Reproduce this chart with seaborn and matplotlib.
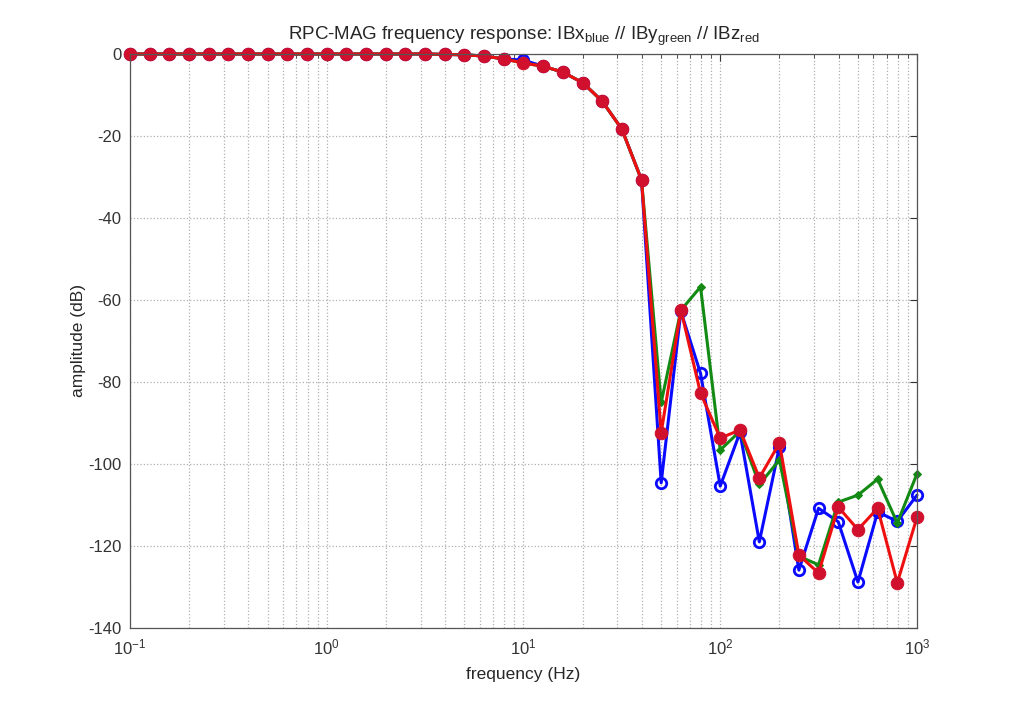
import numpy as np
import pandas as pd
import matplotlib
matplotlib.use('Agg')
import matplotlib.pyplot as plt
import seaborn as sns
from matplotlib.ticker import LogLocator, NullFormatter

sns.set_style('white')
plt.rcParams['font.family'] = ['Liberation Sans', 'DejaVu Sans']
plt.rcParams['mathtext.fontset'] = 'custom'
plt.rcParams['mathtext.rm'] = 'Liberation Sans'
plt.rcParams['mathtext.it'] = 'Liberation Sans'
plt.rcParams['axes.unicode_minus'] = False

# frequencies (Hz), 10 points per decade
freq = [0.1, 0.126, 0.158, 0.2, 0.251, 0.316, 0.398, 0.501, 0.631, 0.794,
        1.0, 1.26, 1.58, 2.0, 2.51, 3.16, 3.98, 5.01, 6.31, 7.94,
        10.0, 12.6, 15.8, 20.0, 25.1, 31.6, 39.8, 50.1, 63.1, 79.4,
        100.0, 126.0, 158.0, 200.0, 251.0, 316.0, 398.0, 501.0, 631.0, 794.0,
        1000.0]

# common low-frequency part (identical for all three components), 0.1 - 39.8 Hz
common = [0, 0, 0, 0, 0, 0, 0, 0, 0, 0,
          0, 0, 0, 0, 0, 0, -0.1, -0.2, -0.5, -1.2,
          -2.2, -3.0, -4.4, -7.0, -11.5, -18.3, -30.7]

# 50 Hz - 1 kHz
bx_tail = [-104.6, -62.8, -77.9, -105.4, -92.3, -119.0, -95.8, -125.9,
           -110.8, -114.1, -128.8, -111.7, -114.0, -107.6]
by_tail = [-85.0, -62.5, -56.8, -96.6, -92.0, -105.0, -99.0, -122.5,
           -124.6, -109.3, -107.6, -103.7, -114.4, -102.4]
bz_tail = [-92.4, -62.4, -82.7, -93.7, -91.7, -103.4, -94.9, -122.2,
           -126.6, -110.5, -116.0, -110.8, -129.0, -113.0]

bx = common + bx_tail
by = common + by_tail
bz = common + bz_tail
bx[20] = -1.5  # blue sits a bit above red at 10 Hz

df = pd.DataFrame({'freq': freq, 'IBx': bx, 'IBy': by, 'IBz': bz})

fig = plt.figure(figsize=(10.1, 7.04), dpi=100)
ax = fig.add_axes([0.1287, 0.108, 0.7792, 0.8153])

sns.lineplot(data=df, x='freq', y='IBx', ax=ax, color='#0a0aff', lw=2.2,
             marker='o', markersize=7.5, markerfacecolor='none',
             markeredgecolor='#0a0aff', markeredgewidth=2, clip_on=False)
sns.lineplot(data=df, x='freq', y='IBy', ax=ax, color='#138a13', lw=2.2,
             marker='D', markersize=4, markerfacecolor='#138a13',
             markeredgecolor='#138a13', clip_on=False)
sns.lineplot(data=df, x='freq', y='IBz', ax=ax, color='#ee1010', lw=2.2,
             marker='o', markersize=9, markerfacecolor='#d0102c',
             markeredgecolor='#d0102c', clip_on=False)

ax.set_xscale('log')
ax.set_xlim(0.1, 1000)
ax.set_ylim(-140, 0)
ax.set_yticks(np.arange(-140, 1, 20))
ax.xaxis.set_major_locator(LogLocator(base=10, numticks=10))
ax.xaxis.set_minor_locator(LogLocator(base=10, subs=np.arange(2, 10), numticks=20))
ax.xaxis.set_minor_formatter(NullFormatter())

ax.grid(True, which='major', axis='both', color='#b0b0b0', ls=':', lw=0.9)
ax.grid(True, which='minor', axis='x', color='#b0b0b0', ls=':', lw=0.9)
ax.tick_params(which='both', direction='in', top=True, right=True,
               labelsize=12, colors='#333333')
ax.tick_params(which='major', length=5, pad=7)
ax.tick_params(axis='y', pad=6)
ax.tick_params(which='minor', length=3)
for s in ax.spines.values():
    s.set_color('#555555')
    s.set_linewidth(0.9)

ax.set_xlabel('frequency (Hz)', fontsize=12.5, labelpad=7)
ax.set_ylabel('amplitude (dB)', fontsize=12.5, labelpad=2)
ax.set_title(r'RPC-MAG frequency response: IBx$_{\rm blue}$ // IBy$_{\rm green}$ // IBz$_{\rm red}$',
             fontsize=13.5, pad=10)

fig.savefig('out.png', dpi=100)
